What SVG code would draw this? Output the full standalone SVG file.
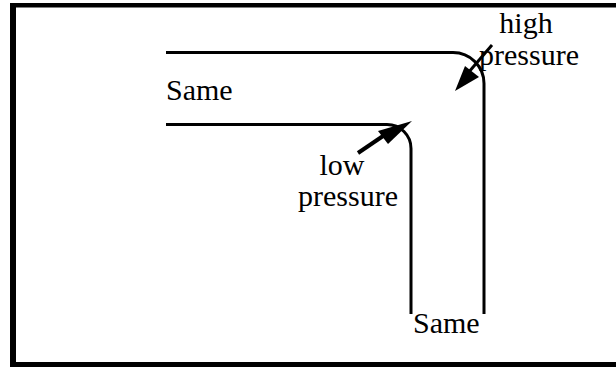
<svg xmlns="http://www.w3.org/2000/svg" width="616" height="367" viewBox="0 0 616 367">
<style>
.t{font-family:"Liberation Serif","Times New Roman",serif;font-size:30px;fill:#000}
.ln{fill:none;stroke:#000;stroke-width:3}
</style>
<rect width="616" height="367" fill="#fff"/>
<g id="frame" fill="#000">
<rect x="10" y="3" width="606" height="4.5"/>
<rect x="10" y="3" width="6" height="364"/>
<rect x="10" y="362" width="606" height="5"/>
</g>
<g id="pipe" class="ln">
<path d="M166 52.5 H453 A31 31 0 0 1 484 83.5 V314"/>
<path d="M166 124.5 H387 A24 24 0 0 1 411 148.5 V314"/>
</g>
<g id="arrows">
<line x1="492" y1="45" x2="468" y2="73" stroke="#000" stroke-width="3"/>
<polygon points="455,91 465,66 479,77" fill="#000"/>
<line x1="358" y1="153" x2="386" y2="134" stroke="#000" stroke-width="4"/>
<polygon points="412,121 378,131 388,144" fill="#000"/>
</g>
<g id="labels">
<text class="t" x="166" y="100">Same</text>
<text class="t" x="526" y="33" text-anchor="middle">high</text>
<text class="t" x="529" y="65" text-anchor="middle">pressure</text>
<text class="t" x="342" y="175" text-anchor="middle">low</text>
<text class="t" x="348" y="206" text-anchor="middle">pressure</text>
<text class="t" x="413" y="333">Same</text>
</g>
</svg>
